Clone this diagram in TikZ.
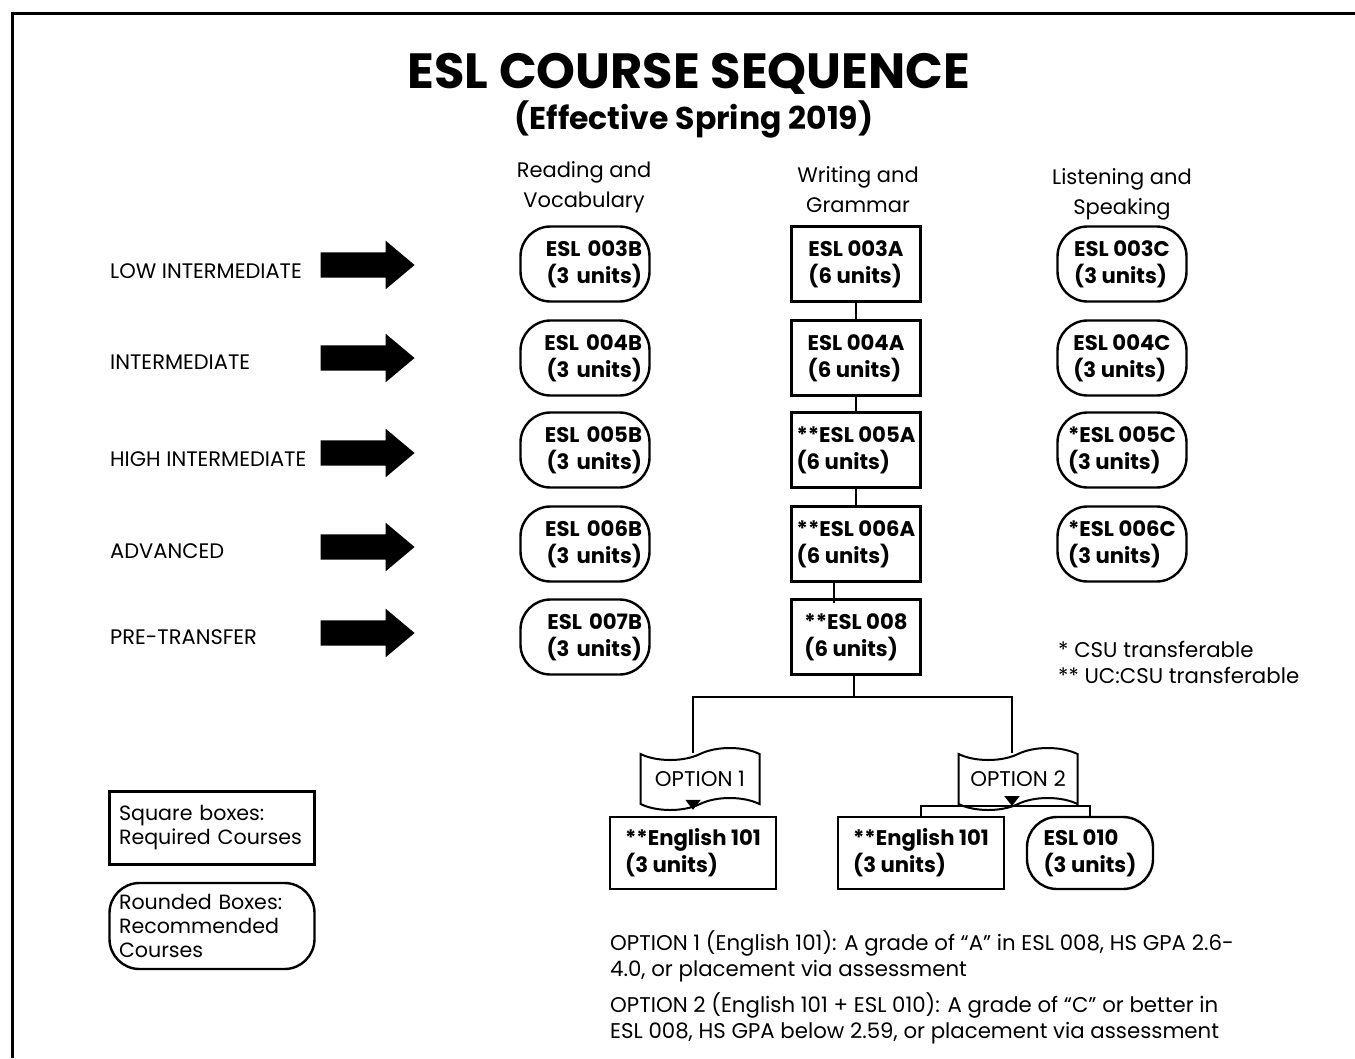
\documentclass[tikz,border=0pt]{standalone}
\usepackage{fontspec}
\setmainfont{Poppins}
\usetikzlibrary{arrows.meta,positioning,shapes.arrows,shapes.symbols}

\begin{document}
\begin{tikzpicture}[
	x=1pt, y=-1pt,
	every node/.style = {inner sep=0pt, font=\fontsize{21.3}{26}\selectfont},
	req/.style = {draw, line width=2.4pt, minimum width=129pt, minimum height=75pt, align=left, font=\bfseries\fontsize{21.2}{27}\selectfont},
	rec/.style = {req, rounded corners=30pt},
	recb/.style = {rec, text width=114pt, align=right},
	head/.style = {align=center, font=\fontsize{21}{30}\selectfont},
	level/.style = {anchor=west, font=\fontsize{21}{26}\selectfont},
	blockarrow/.style = {single arrow, fill=black, minimum height=94pt, inner sep=12.5pt, single arrow head extend=11.5pt, single arrow tip angle=80},
	tapebox/.style = {tape, draw, line width=2pt, minimum width=119pt, minimum height=62pt, tape bend height=12pt},
	legend/.style = {draw, line width=2.4pt, minimum width=205pt, text width=186pt, align=left, font=\fontsize{20.6}{24}\selectfont},
	link/.style = {line width=2.2pt},
	arrowlink/.style = {link, -{Triangle[width=15pt,length=10pt]}},
	note/.style = {anchor=north west, align=left}
]
\useasboundingbox (0,0) rectangle (1355,1058);
\draw[line width=3pt] (1355,13) -- (12,13) -- (12,1058);

\node[font=\bfseries\fontsize{49.5}{54}\selectfont] (title) at (689,74) {ESL COURSE SEQUENCE};
\node[font=\bfseries\fontsize{31.5}{35}\selectfont] (effective) at (694,119) {(Effective Spring 2019)};

\node[head] (hRead) at (584,187) {Reading and\\Vocabulary};
\node[head] (hWrite) at (858,190) {Writing and\\Grammar};
\node[head] (hListen) at (1122,194) {Listening and\\Speaking};

\node[level] (lLow) at (110,271) {LOW INTERMEDIATE};
\node[level] (lInt) at (110,362) {INTERMEDIATE};
\node[level] (lHigh) at (110,459) {HIGH INTERMEDIATE};
\node[level] (lAdv) at (110,551) {ADVANCED};
\node[level] (lPre) at (110,637) {PRE-TRANSFER};

\node[blockarrow] (aLow) at (360,265) {};
\node[blockarrow] (aInt) at (360,358) {};
\node[blockarrow] (aHigh) at (360,453) {};
\node[blockarrow] (aAdv) at (360,547) {};
\node[blockarrow] (aPre) at (360,633) {};

\node[recb] (b3) at (585,264) {ESL 003B\\(3 units)};
\node[recb] (b4) at (585,358) {ESL 004B\\(3 units)};
\node[recb] (b5) at (585,450) {ESL 005B\\(3 units)};
\node[recb] (b6) at (585,544) {ESL 006B\\(3 units)};
\node[recb] (b7) at (585,637) {ESL 007B\\(3 units)};

\node[req] (w3) at (856,264) {ESL 003A\\(6 units)};
\node[req] (w4) at (856,358) {ESL 004A\\(6 units)};
\node[req] (w5) at (856,450) {**ESL 005A\\(6 units)};
\node[req] (w6) at (856,544) {**ESL 006A\\(6 units)};
\node[req] (w8) at (856,637) {**ESL 008\\(6 units)};

\node[rec] (c3) at (1122,264) {ESL 003C\\(3 units)};
\node[rec] (c4) at (1122,358) {ESL 004C\\(3 units)};
\node[rec] (c5) at (1122,450) {*ESL 005C\\(3 units)};
\node[rec] (c6) at (1122,544) {*ESL 006C\\(3 units)};

\node[note] (fnote) at (1058,641) {* CSU transferable\\** UC:CSU transferable};

\draw[link] (w3) -- (w4);
\draw[link] (w4) -- (w5);
\draw[link] (w5) -- (w6);
\draw[link] ([xshift=-22pt]w6.south) -- ([xshift=-22pt,yshift=-5pt]w8.north);

\node[tapebox] (opt1) at (700,779) {OPTION 1};
\node[tapebox] (opt2) at (1018,779) {OPTION 2};

\node[req, minimum width=166pt, minimum height=72pt] (eng1) at (693,853) {**English 101\\(3 units)};
\node[req, minimum width=166pt, minimum height=72pt] (eng2) at (921,853) {**English 101\\(3 units)};
\node[rec, minimum width=126pt, minimum height=72pt] (esl10) at (1090,853) {ESL 010\\(3 units)};

\coordinate (fork) at (854,697);
\coordinate (join) at (1012,806);
\draw[link] (w8.south -| fork) -- (fork);
\draw[link] (opt1.north -| eng1.north) |- (fork) -| (opt2.north -| join);
\draw[arrowlink] (opt1.south -| eng1.north) -- ([yshift=6pt]eng1.north);
\draw[arrowlink] (opt2.south -| join) -- (join);
\draw[link] (eng2.north) |- (join) -| (esl10.north);

\node[legend, minimum height=73pt] (legSq) at (212,828) {Square boxes:\\Required Courses};
\node[legend, minimum height=86pt, rounded corners=30pt] (legRd) at (212,926) {Rounded Boxes:\\Recommended\\Courses};

\node[note] (opt1note) at (610,930) {OPTION 1 (English 101): A grade of ``A'' in ESL 008, HS GPA 2.6-\\4.0, or placement via assessment};
\node[note] (opt2note) at (610,992) {OPTION 2 (English 101 + ESL 010): A grade of ``C'' or better in\\ESL 008, HS GPA below 2.59, or placement via assessment};
\end{tikzpicture}
\end{document}
